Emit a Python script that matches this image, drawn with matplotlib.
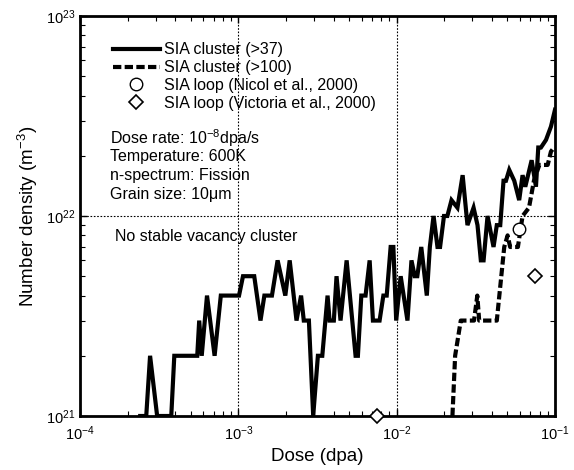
import numpy as np
import matplotlib
matplotlib.use("Agg")
import matplotlib.pyplot as plt

plt.rcParams['font.family'] = ['Liberation Sans', 'DejaVu Sans']
plt.rcParams['mathtext.fontset'] = 'custom'
plt.rcParams['mathtext.rm'] = 'Liberation Sans'
plt.rcParams['mathtext.it'] = 'Liberation Sans:italic'
plt.rcParams['mathtext.default'] = 'regular'

# SIA cluster (>37): dose (dpa), density (1e21 m^-3)
dose_37 = [2.40e-4, 2.62e-4, 2.77e-4, 3.07e-4, 3.77e-4, 3.94e-4, 5.50e-4, 5.66e-4,
           5.87e-4, 6.34e-4, 7.08e-4, 7.75e-4, 1.01e-3, 1.07e-3, 1.26e-3, 1.38e-3,
           1.46e-3, 1.63e-3, 1.77e-3, 1.98e-3, 2.11e-3, 2.33e-3, 2.49e-3, 2.59e-3,
           2.79e-3, 2.97e-3, 3.18e-3, 3.39e-3, 3.66e-3, 3.77e-3, 4.01e-3, 4.17e-3,
           4.42e-3, 4.83e-3, 5.50e-3, 5.69e-3, 5.98e-3, 6.36e-3, 6.75e-3, 7.08e-3,
           7.80e-3, 8.24e-3, 8.65e-3, 9.16e-3, 9.53e-3, 9.93e-3, 1.06e-2, 1.17e-2,
           1.24e-2, 1.30e-2, 1.35e-2, 1.43e-2, 1.55e-2, 1.62e-2, 1.71e-2, 1.81e-2,
           1.88e-2, 1.99e-2, 2.09e-2, 2.22e-2, 2.42e-2, 2.61e-2, 2.80e-2, 3.06e-2,
           3.24e-2, 3.40e-2, 3.54e-2, 3.75e-2, 4.09e-2, 4.29e-2, 4.51e-2, 4.73e-2,
           4.90e-2, 5.14e-2, 5.53e-2, 5.94e-2, 6.24e-2, 6.49e-2, 7.12e-2, 7.58e-2,
           7.84e-2, 8.15e-2, 8.77e-2, 9.43e-2, 1.00e-1]
dens_37 = [1, 1, 2, 1, 1, 2, 2, 3,
           2, 4, 2, 4, 4, 5, 5, 3,
           4, 4, 6, 4, 6, 3, 4, 3,
           3, 1, 2, 2, 4, 3, 3, 5,
           3, 6, 2, 2, 4, 4, 6, 3,
           3, 4, 4, 7, 7, 3, 5, 3,
           6, 5, 5, 7, 4, 7, 10, 7,
           7, 10, 10, 12, 11, 16, 9, 11,
           9, 6, 6, 10, 7, 9, 9, 15,
           15, 17, 15, 12, 16, 14, 19, 14,
           22, 22, 24, 28, 34]

# SIA cluster (>100)
dose_100 = [2.25e-2, 2.34e-2, 2.54e-2, 3.08e-2, 3.23e-2, 3.32e-2, 4.29e-2, 4.78e-2,
            5.02e-2, 5.21e-2, 5.83e-2, 6.24e-2, 6.85e-2, 7.36e-2, 7.96e-2, 8.99e-2,
            9.43e-2, 9.86e-2]
dens_100 = [1, 2, 3, 3, 4, 3, 3, 7,
            8, 7, 7, 10, 11, 15, 18, 18,
            21, 22]

# experimental SIA loops
nicol_dose = [0.0594]
nicol_dens = [8.6e21]
victoria_dose = [0.00755, 0.0746]
victoria_dens = [1.0e21, 5.0e21]

fig = plt.figure(figsize=(5.74, 4.70), dpi=100)
ax = fig.add_axes([0.1394, 0.1149, 0.8275, 0.8511])

ax.plot(dose_37, np.array(dens_37) * 1e21, color='k', lw=3, solid_joinstyle='miter',
        label='SIA cluster (>37)')
ax.plot(dose_100, np.array(dens_100) * 1e21, color='k', lw=3, dashes=(2, 0.8),
        label='SIA cluster (>100)')
ax.plot(nicol_dose, nicol_dens, 'o', ms=9, mfc='white', mec='k', mew=1,
        label='SIA loop (Nicol et al., 2000)')
ax.plot(victoria_dose, victoria_dens, 'D', ms=7, mfc='white', mec='k', mew=1.2,
        clip_on=False, label='SIA loop (Victoria et al., 2000)', zorder=5)

ax.set_xscale('log')
ax.set_yscale('log')
ax.set_xlim(1e-4, 1e-1)
ax.set_ylim(1e21, 1e23)

ax.grid(True, which='major', linestyle=(0, (1.5, 1.5)), color='k', lw=0.8)
ax.tick_params(which='both', direction='in', top=True, right=True, labelsize=10.5)
ax.tick_params(which='major', length=5, width=1)
ax.tick_params(which='minor', length=3.5, width=0.8)
ax.tick_params(axis='x', which='major', pad=6)
for s in ax.spines.values():
    s.set_linewidth(2)

ax.set_xlabel('Dose (dpa)', fontsize=13.5)
ax.set_ylabel('Number density (m$^{-3}$)', fontsize=13.5)

ax.legend(loc='upper left', bbox_to_anchor=(0.070, 0.934), frameon=False,
          borderpad=0, borderaxespad=0, handlelength=2.9, handletextpad=0.3,
          labelspacing=0.17, fontsize=11.5)

ax.text(0.063, 0.695, 'Dose rate: 10$^{-8}$dpa/s', transform=ax.transAxes, va='center', fontsize=11.5)
ax.text(0.063, 0.6475, 'Temperature: 600K', transform=ax.transAxes, va='center', fontsize=11.5)
ax.text(0.063, 0.6, 'n-spectrum: Fission', transform=ax.transAxes, va='center', fontsize=11.5)
ax.text(0.063, 0.5525, 'Grain size: 10\u03bcm', transform=ax.transAxes, va='center', fontsize=11.5)
ax.text(0.074, 0.4475, 'No stable vacancy cluster', transform=ax.transAxes, va='center', fontsize=11.5)

fig.savefig('out.png', dpi=100)
